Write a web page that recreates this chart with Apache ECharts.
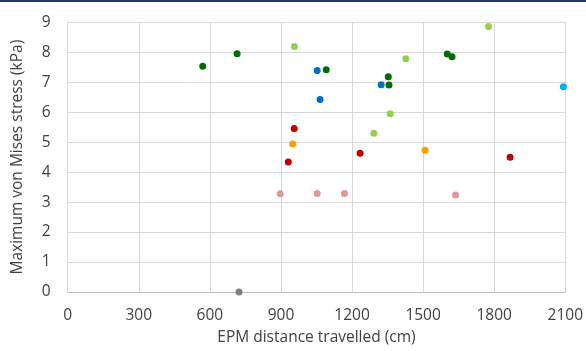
<!DOCTYPE html>
<html><head><meta charset="utf-8">
<script src="https://cdn.jsdelivr.net/npm/echarts@6/dist/echarts.min.js"></script>
<style>html,body{margin:0;padding:0;background:#fff}#c{width:586px;height:351px}</style>
</head><body><div id="c"></div>
<script>
const xTicks = [0, 300, 600, 900, 1200, 1500, 1800, 2100];
const yTicks = [0, 1, 2, 3, 4, 5, 6, 7, 8, 9];
const darkGreen = [[570, 7.53], [715, 7.95], [1091, 7.42], [1353, 7.18], [1356, 6.91], [1602, 7.94], [1622, 7.85]];
const lightGreen = [[957, 8.19], [1427, 7.78], [1776, 8.86], [1361, 5.95], [1292, 5.30]];
const blue = [[1053, 7.39], [1065, 6.42], [1323, 6.92]];
const cyan = [[2092, 6.85]];
const red = [[956, 5.46], [931, 4.34], [1234, 4.63], [1867, 4.50]];
const orange = [[950, 4.94], [1508, 4.73]];
const pink = [[897, 3.28], [1053, 3.29], [1168, 3.29], [1637, 3.24]];
const gray = [[723, 0]];

const groups = [
  [darkGreen, '#006e00'], [lightGreen, '#92d050'], [blue, '#0070c0'], [cyan, '#00b0f0'],
  [red, '#c00000'], [orange, '#ff9c00'], [pink, '#de9a98'], [gray, '#808080']
];
const font = '"Open Sans", "Liberation Sans", sans-serif';
const chart = echarts.init(document.getElementById('c'));
chart.setOption({
  animation: false,
  graphic: [{type: 'rect', shape: {x: 0, y: 0, width: 586, height: 2}, style: {fill: '#1f3864'}}],
  grid: {left: 67.7, right: 20, top: 22.3, bottom: 57.7},
  xAxis: {
    type: 'value', min: xTicks[0], max: xTicks[xTicks.length - 1], interval: 300,
    name: 'EPM distance travelled (cm)', nameLocation: 'middle', nameGap: 38,
    nameTextStyle: {fontFamily: font, fontSize: 15.5, color: '#404040'},
    axisLine: {show: true, lineStyle: {color: '#bfbfbf'}},
    axisTick: {show: false},
    axisLabel: {fontFamily: font, fontSize: 15.5, color: '#404040', margin: 16, formatter: v => String(v)},
    splitLine: {show: true, lineStyle: {color: '#d9d9d9'}}
  },
  yAxis: {
    type: 'value', min: yTicks[0], max: yTicks[yTicks.length - 1], interval: 1,
    name: 'Maximum von Mises stress (kPa)', nameLocation: 'middle', nameGap: 42,
    nameTextStyle: {fontFamily: font, fontSize: 15.5, color: '#404040'},
    axisLine: {show: false},
    axisTick: {show: false},
    axisLabel: {fontFamily: font, fontSize: 15.5, color: '#404040', margin: 17},
    splitLine: {show: true, lineStyle: {color: '#d9d9d9'}}
  },
  series: groups.map(([d, c]) => ({
    type: 'scatter', data: d, symbolSize: 7, itemStyle: {color: c, opacity: 1}
  }))
});
</script></body></html>
